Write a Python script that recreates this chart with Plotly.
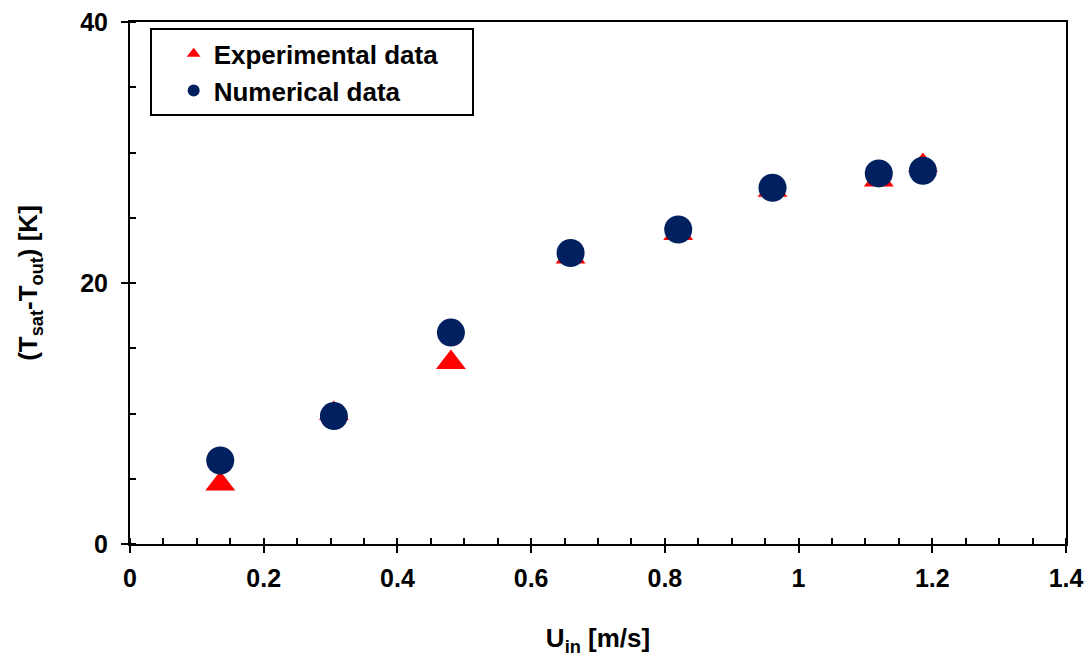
import plotly.graph_objects as go

# inlet velocity [m/s]
u_exp = [0.135, 0.305, 0.480, 0.659, 0.820, 0.961, 1.120, 1.186]
dt_exp = [4.6, 10.0, 13.9, 22.0, 23.8, 27.1, 27.9, 29.0]

u_num = [0.135, 0.305, 0.480, 0.659, 0.820, 0.961, 1.120, 1.186]
dt_num = [6.4, 9.8, 16.2, 22.3, 24.1, 27.3, 28.4, 28.6]

FONT = "Liberation Sans, Arial, sans-serif"
NB = "\u00a0"

fig = go.Figure()
fig.add_trace(go.Scatter(
    x=u_exp, y=dt_exp, mode="markers", name="Experimental data" + NB * 4,
    marker=dict(symbol="triangle-up", size=26, color="#ff0000", line=dict(width=0)),
))
fig.add_trace(go.Scatter(
    x=u_num, y=dt_num, mode="markers", name="Numerical data",
    marker=dict(symbol="circle", size=28, color="#002060", line=dict(width=0)),
))

axis_common = dict(
    showline=True, linecolor="black", linewidth=2, mirror=True,
    showgrid=False, zeroline=False, automargin=False,
    ticks="outside", ticklen=7, tickwidth=2, tickcolor="black",
    tickfont=dict(family=FONT, size=25, color="black", weight="bold"),
)

fig.update_xaxes(
    range=[0, 1.4], dtick=0.2, tick0=0,
    minor=dict(dtick=0.05, ticks="inside", ticklen=6, tickwidth=2, tickcolor="black"),
    title=dict(text="U<sub>in</sub> [m/s]", standoff=38,
               font=dict(family=FONT, size=26, color="black", weight="bold")),
    ticklabelstandoff=4,
    **axis_common,
)
fig.update_yaxes(
    range=[0, 40], dtick=20, tick0=0,
    minor=dict(dtick=5, ticks="inside", ticklen=6, tickwidth=2, tickcolor="black"),
    title=dict(text="(T<sub>sat</sub>-T<sub>out</sub>) [K]", standoff=35,
               font=dict(family=FONT, size=26, color="black", weight="bold")),
    ticklabelstandoff=8,
    **axis_common,
)

fig.update_layout(
    width=1089, height=662,
    margin=dict(l=130, r=23, t=22, b=118),
    plot_bgcolor="white", paper_bgcolor="white",
    legend=dict(
        x=0.021, y=0.988, xanchor="left", yanchor="top",
        bgcolor="white", bordercolor="black", borderwidth=2,
        font=dict(family=FONT, size=26, color="black", weight="bold"),
        itemsizing="constant", itemwidth=30, tracegroupgap=9,
        indentation=22,
    ),
)

fig.write_html("out.html", config={"displayModeBar": False},
               post_script="document.body.style.margin='0';")
